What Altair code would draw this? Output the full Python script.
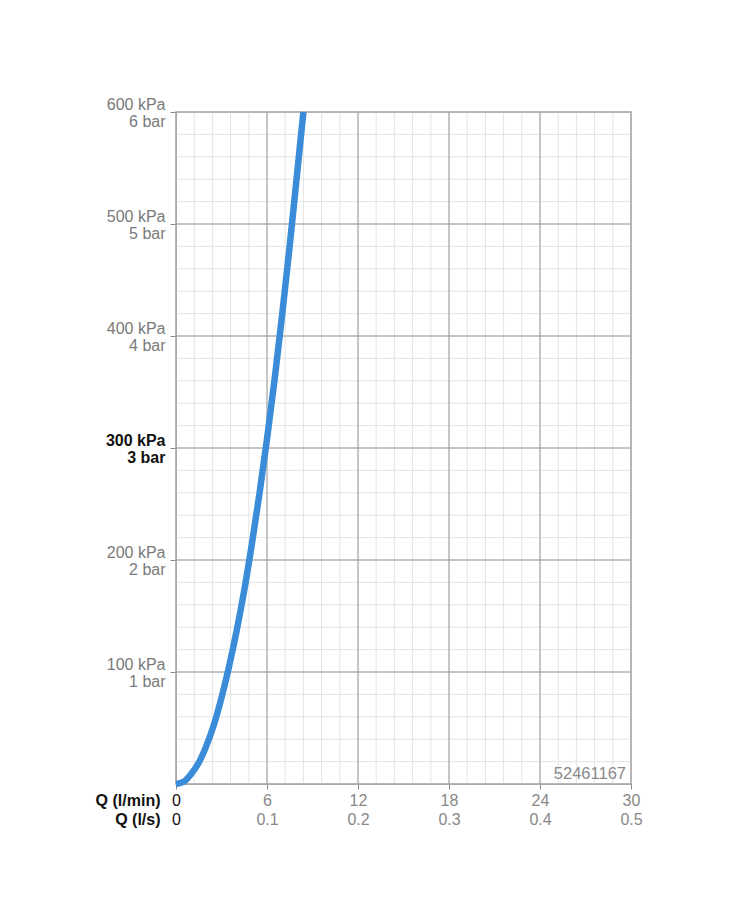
import altair as alt
import pandas as pd
import numpy as np

# Curve: flow Q (l/min) vs pressure (kPa)
flow_lpm = [0, 0.5, 1.0, 1.5, 2.0, 2.5, 3.0, 3.5, 4.0, 4.5, 5.0, 5.5, 6.0, 6.5, 7.0, 7.5, 8.0, 8.4]
pressure_kpa = [0, 2, 9, 19, 34, 53, 77, 105, 137, 173, 214, 259, 308, 361, 419, 481, 547, 600]

x_major = [0, 6, 12, 18, 24, 30]
y_major = [0, 100, 200, 300, 400, 500, 600]
y_labelled = [100, 200, 300, 400, 500, 600]
x_minor = [round(v, 2) for v in np.arange(0, 30.01, 1.2)]
y_minor = list(range(0, 601, 20))
code_label = "52461167"

curve = pd.DataFrame({"Q": flow_lpm, "p": pressure_kpa})
xs = alt.Scale(domain=[0, 30], nice=False, zero=False)
ys = alt.Scale(domain=[0, 600], nice=False, zero=False)

font = "Liberation Sans"

x_axis = alt.Axis(
    values=x_major, grid=False,
    labelExpr="datum.value == 0 ? ['0', '0'] : [datum.label, format(datum.value / 60, '.1f')]",
    labelColor=alt.expr("datum.value == 0 ? '#111111' : '#888888'"),
    labelFont=font, labelFontSize=16, labelLineHeight=19, labelPadding=3,
    labelBaseline="top", labelFlush=False,
    tickSize=5, tickColor="#888888", domainColor="#888888",
    title=["Q (l/min)", "Q (l/s)"], titleFont=font, titleFontSize=16, titleFontWeight="bold",
    titleColor="#111111", titleLineHeight=19, titleAlign="right", titleBaseline="top",
    titleX=-16, titleY=8, titleAnchor="start")

y_axis = alt.Axis(
    values=y_labelled, grid=False,
    labelExpr="[datum.value + ' kPa', (datum.value / 100) + ' bar']",
    labelColor=alt.expr("datum.value == 300 ? '#111111' : '#7a7a7a'"),
    labelFontWeight=alt.expr("datum.value == 300 ? 'bold' : 'normal'"),
    labelFont=font, labelFontSize=16, labelLineHeight=17, labelPadding=5,
    labelBaseline="middle", labelFlush=False, labelOffset=-8,
    tickSize=6, tickColor="#888888", domainColor="#888888", title=None)

def X(field):
    return alt.X(field, scale=xs, axis=x_axis)

def Y(field):
    return alt.Y(field, scale=ys, axis=y_axis)

minor_v = alt.Chart(pd.DataFrame({"x": x_minor})).mark_rule(color="#e4e4e4", strokeWidth=1).encode(
    x=X("x:Q"))
minor_h = alt.Chart(pd.DataFrame({"y": y_minor})).mark_rule(color="#e4e4e4", strokeWidth=1).encode(
    y=Y("y:Q"))
major_v = alt.Chart(pd.DataFrame({"x": x_major})).mark_rule(color="#9a9a9a", strokeWidth=1).encode(
    x=X("x:Q"))
major_h = alt.Chart(pd.DataFrame({"y": y_major})).mark_rule(color="#9a9a9a", strokeWidth=1).encode(
    y=Y("y:Q"))

line = alt.Chart(curve).mark_line(color="#3a8cd8", strokeWidth=6.5, interpolate="monotone").encode(
    x=X("Q:Q"), y=Y("p:Q"))

code = alt.Chart(pd.DataFrame({"x": [30], "y": [0], "t": [code_label]})).mark_text(
    align="right", baseline="bottom", dx=-5, dy=-2, font=font, fontSize=16.5, color="#8a8a8a").encode(
    x=X("x:Q"), y=Y("y:Q"), text="t:N")

chart = alt.layer(minor_v, minor_h, major_v, major_h, line, code).properties(
    width=455, height=672,
    autosize=alt.AutoSizeParams(type="none"),
    padding={"left": 168, "top": 104, "right": 100, "bottom": 100},
).configure_view(stroke="#aaaaaa", strokeWidth=1.5)

chart.save("out.html", embed_options={"renderer": "svg", "actions": False})
